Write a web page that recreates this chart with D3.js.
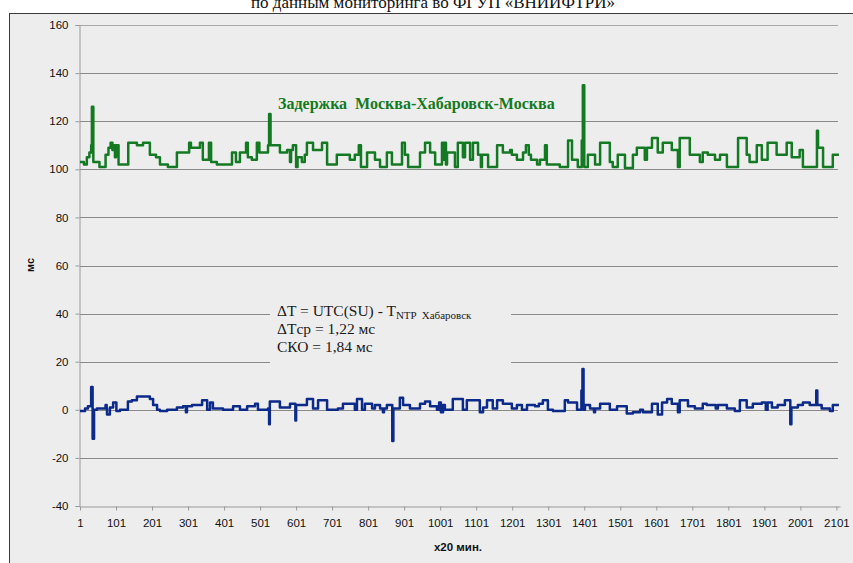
<!DOCTYPE html>
<html>
<head>
<meta charset="utf-8">
<script src="https://cdn.jsdelivr.net/npm/d3@7"></script>
<style>
  html, body { margin: 0; padding: 0; background: #fff; }
  svg { display: block; }
</style>
</head>
<body>
<div id="chart"></div>
<script>
// Sample index where each step starts, and its level (ms)
const delayIdx = [1, 12, 20, 27, 32, 34, 38, 55, 72, 80, 86, 91, 93, 98, 101, 108, 135, 159, 176, 195,
  212, 223, 245, 270, 304, 309, 334, 342, 359, 365, 381, 423, 434, 445, 462, 467, 478, 492, 499, 523,
  526, 530, 556, 576, 584, 587, 592, 601, 605, 617, 625, 631, 648, 673, 687, 714, 750, 764, 775, 781,
  798, 820, 834, 853, 867, 895, 903, 912, 945, 959, 973, 987, 1006, 1009, 1012, 1017, 1020, 1042, 1050, 1064,
  1070, 1084, 1092, 1106, 1114, 1117, 1134, 1159, 1175, 1195, 1200, 1214, 1231, 1239, 1247, 1253, 1270, 1278, 1292, 1297,
  1333, 1356, 1367, 1383, 1394, 1397, 1401, 1411, 1431, 1445, 1472, 1480, 1494, 1514, 1536, 1547, 1569, 1575, 1589, 1605,
  1619, 1644, 1661, 1666, 1694, 1722, 1730, 1744, 1764, 1778, 1797, 1828, 1852, 1860, 1880, 1894, 1910, 1935, 1963, 1977,
  1999, 2008, 2047, 2050, 2064, 2091];
const delayVal = [103, 102, 105, 107, 110, 126, 103, 101, 106, 109, 111, 108, 110, 105, 110, 102, 111, 110, 111, 106,
  105, 102, 101, 107, 111, 109, 111, 104, 111, 103, 102, 107, 103, 107, 111, 105, 104, 111, 107, 110,
  123, 110, 107, 108, 103, 108, 110, 101, 105, 103, 106, 111, 108, 111, 102, 106, 104, 106, 110, 101,
  107, 104, 101, 107, 102, 111, 106, 101, 107, 111, 107, 102, 111, 104, 111, 102, 107, 101, 111, 105,
  111, 104, 111, 106, 101, 106, 101, 110, 107, 108, 106, 104, 107, 110, 106, 104, 102, 104, 110, 102,
  101, 112, 104, 101, 112, 135, 101, 106, 102, 111, 103, 101, 106, 100.5, 106, 109, 104, 109, 113, 107,
  111, 108, 101, 113, 106, 103, 107, 106, 104, 106, 101, 113, 106, 103, 110, 104, 111, 106, 111, 105,
  108, 101, 116, 109, 101, 106];

const offsetIdx = [1, 15, 23, 32, 36, 40, 48, 72, 75, 76, 84, 93, 102, 112, 134, 145, 159, 195, 204, 215,
  223, 243, 270, 287, 295, 298, 312, 340, 354, 362, 370, 398, 426, 445, 465, 487, 495, 523, 526, 528,
  556, 584, 599, 601, 631, 648, 662, 687, 717, 731, 764, 770, 784, 792, 812, 820, 834, 842, 845, 853,
  868, 871, 889, 898, 917, 945, 959, 973, 992, 998, 1003, 1009, 1014, 1036, 1064, 1075, 1111, 1120, 1131, 1147,
  1159, 1175, 1200, 1214, 1228, 1242, 1264, 1275, 1286, 1300, 1314, 1347, 1356, 1381, 1393, 1396, 1399, 1403, 1417, 1428,
  1431, 1445, 1472, 1492, 1519, 1536, 1556, 1564, 1589, 1605, 1617, 1631, 1644, 1661, 1666, 1689, 1708, 1730, 1741, 1766,
  1772, 1797, 1819, 1833, 1852, 1869, 1894, 1905, 1910, 1922, 1938, 1958, 1973, 1976, 1994, 2008, 2027, 2045, 2048, 2060,
  2083, 2091];
const offsetVal = [-0.5, 0.5, 1.5, 9.5, -12, 0, 0.5, 2, 0.5, -2, 1, 3, -0.5, 0, 3.5, 4, 5.5, 4.5, 2, 0,
  -0.5, 0, 1, 1.5, -1, 1.5, 2, 4, 0, 3, 0.5, 0, 1.5, 0, 1.5, 2.5, 0, 0.5, -6, 3.5,
  1, 2.5, -4.5, 2, 4.5, 0.5, 4, 0, 0.5, 2.5, 0, 4.5, 0, 2.5, 0.5, 2, 0.5, -1, 0.5, 2,
  -13, 0.5, 5, 2, 0.5, 2.5, 3.5, 1.5, 0, 3, -1, 2, 0, 4.5, 0, 4, -1, 1, 4, 0.5,
  4, 2.5, 0.5, 2, 0, 2, 1.5, 2.5, 4, 0, -0.5, 4, 3, 0, 8, 17, 0, 2, 0.5, -1,
  0.5, 2.5, 0, 1.5, -1.5, -1, 0, -1, 2.5, -2, 3, 4.5, 2.5, -1, 4, 1.5, 0.5, 2.5, 2, 0.5,
  2, 0.5, -0.5, 4, 1, 2.5, 3, 0, 3, 1, 2, 4, -6, 1, 2, 3, 2, 8, 2, 0.5,
  -0.5, 2];

const lastIdx = 2111;
const xTickVals = d3.range(1, 2102, 100);
const yTickVals = d3.range(-40, 161, 20);

const width = 853, height = 563;

const svg = d3.select('#chart')
  .append('svg')
  .attr('width', width)
  .attr('height', height);

// Caption above the chart (only its lower part shows in the source)
svg.append('text')
  .attr('x', 433)
  .attr('y', 8)
  .attr('text-anchor', 'middle')
  .style('font-family', '"Liberation Serif", "Times New Roman", serif')
  .style('font-size', '17px')
  .style('fill', '#111')
  .text('по данным мониторинга во ФГУП «ВНИИФТРИ»');

// Chart area
svg.append('rect')
  .attr('x', 9.5).attr('y', 13.5)
  .attr('width', width).attr('height', height)
  .attr('fill', '#ededed')
  .attr('stroke', '#3a3a3a')
  .attr('stroke-width', 1);

const x = d3.scaleLinear().domain([1, lastIdx]).range([80, 840]);
const y = d3.scaleLinear().domain([-40, 160]).range([506, 25]);

// Gridlines
svg.append('g')
  .selectAll('line')
  .data(yTickVals.filter(v => v !== -40))
  .enter()
  .append('line')
  .attr('x1', 80).attr('x2', 838)
  .attr('y1', d => Math.round(y(d)) + 0.5)
  .attr('y2', d => Math.round(y(d)) + 0.5)
  .attr('stroke', d => d === 160 ? '#a8a8a8' : '#8a8a8a')
  .attr('stroke-width', 1.2);

// Y axis
const yAxis = svg.append('g')
  .attr('transform', 'translate(79.5,0)')
  .call(d3.axisLeft(y).tickValues(yTickVals).tickFormat(d => String(d)).tickSize(4).tickPadding(7));
yAxis.select('.domain').attr('stroke', '#999');
yAxis.selectAll('.tick line').attr('stroke', '#999');
yAxis.selectAll('.tick text')
  .style('font-family', '"Liberation Sans", Arial, sans-serif')
  .style('font-size', '11.5px')
  .style('fill', '#111');

// X axis
const xAxis = svg.append('g')
  .attr('transform', `translate(0,${Math.round(y(-40)) + 0.5})`)
  .call(d3.axisBottom(x).tickValues(xTickVals).tickFormat(d => String(d)).tickSize(4).tickPadding(8).tickSizeOuter(0));
xAxis.select('.domain').attr('stroke', '#999');
xAxis.selectAll('.tick line').attr('stroke', '#999');
xAxis.selectAll('.tick text')
  .style('font-family', '"Liberation Sans", Arial, sans-serif')
  .style('font-size', '11.5px')
  .style('fill', '#111');

// Axis titles
svg.append('text')
  .attr('transform', 'translate(34,265) rotate(-90)')
  .attr('text-anchor', 'middle')
  .style('font-family', '"Liberation Sans", Arial, sans-serif')
  .style('font-size', '11px')
  .style('font-weight', 'bold')
  .style('fill', '#111')
  .text('мс');

svg.append('text')
  .attr('x', 458)
  .attr('y', 551)
  .attr('text-anchor', 'middle')
  .style('font-family', '"Liberation Sans", Arial, sans-serif')
  .style('font-size', '11.5px')
  .style('font-weight', 'bold')
  .style('fill', '#111')
  .text('x20 мин.');

// Series
const line = d3.line()
  .x(d => x(d[0]))
  .y(d => y(d[1]))
  .curve(d3.curveStepAfter);

function toPoints(idx, val) {
  const pts = idx.map((d, i) => [d, val[i]]);
  pts.push([lastIdx - 3, val[val.length - 1]]);
  return pts;
}

svg.append('path')
  .datum(toPoints(delayIdx, delayVal))
  .attr('d', line)
  .attr('fill', 'none')
  .attr('stroke', '#137a23')
  .attr('stroke-width', 2.5)
  .attr('stroke-linejoin', 'round');

svg.append('path')
  .datum(toPoints(offsetIdx, offsetVal))
  .attr('d', line)
  .attr('fill', 'none')
  .attr('stroke', '#0b2a8a')
  .attr('stroke-width', 2.5)
  .attr('stroke-linejoin', 'round');

// Series label for the delay
svg.append('text')
  .attr('x', 278)
  .attr('y', 109)
  .attr('xml:space', 'preserve')
  .style('font-family', '"Liberation Serif", "Times New Roman", serif')
  .style('font-size', '16px')
  .style('font-weight', 'bold')
  .style('fill', '#137a23')
  .text('Задержка  Москва-Хабаровск-Москва');

// Annotation box for the offset
const note = svg.append('g');
note.append('rect')
  .attr('x', 270).attr('y', 298)
  .attr('width', 241).attr('height', 70)
  .attr('fill', '#ededed');

const noteFont = '"Liberation Serif", "Times New Roman", serif';
const l1 = note.append('text')
  .attr('x', 277).attr('y', 316)
  .style('font-family', noteFont)
  .style('font-size', '15.5px')
  .style('fill', '#1a1a1a');
l1.append('tspan').text('ΔT = UTC(SU) - T');
l1.append('tspan').attr('dy', 3).style('font-size', '11px').attr('xml:space', 'preserve').text('NTP  Хабаровск');

note.append('text')
  .attr('x', 277).attr('y', 334)
  .style('font-family', noteFont)
  .style('font-size', '15.5px')
  .style('fill', '#1a1a1a')
  .text('ΔTср = 1,22 мс');

note.append('text')
  .attr('x', 277).attr('y', 352)
  .style('font-family', noteFont)
  .style('font-size', '15.5px')
  .style('fill', '#1a1a1a')
  .text('СКО = 1,84 мс');
</script>
</body>
</html>
